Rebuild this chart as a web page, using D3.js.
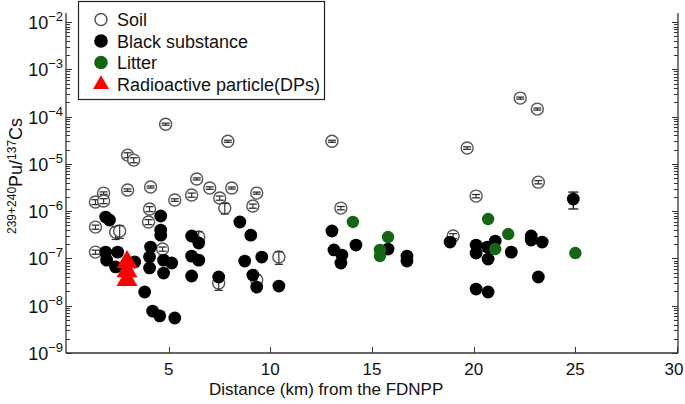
<!DOCTYPE html>
<html><head><meta charset="utf-8">
<script src="https://cdn.jsdelivr.net/npm/d3@7"></script>
<style>body{margin:0;background:#fff}svg{display:block}text{font-family:"Liberation Sans",Arial,sans-serif}</style>
</head><body><svg id="c" width="685" height="404"></svg>
<script>
// ---- data ----
const soilX = [4.85,7.91,2.98,3.28,13.03,19.68,22.29,23.13,23.18,20.12,13.47,18.99,1.80,1.40,1.80,2.98,4.11,4.06,4.01,1.40,2.39,2.59,1.40,4.70,5.30,6.13,6.38,7.02,8.10,7.51,7.76,9.33,9.14,6.48,10.42,7.46,9.33];
const soilY = [6.9e-5,3.0e-5,1.53e-5,1.2e-5,3.0e-5,2.16e-5,2.46e-4,1.44e-4,4.1e-6,2.08e-6,1.16e-6,2.98e-7,2.41e-6,1.56e-6,1.64e-6,2.79e-6,3.24e-6,1.11e-6,5.9e-7,4.6e-7,3.6e-7,3.8e-7,1.36e-7,1.58e-7,1.72e-6,2.19e-6,4.8e-6,3.08e-6,3.08e-6,1.89e-6,1.16e-6,2.41e-6,1.28e-6,2.83e-7,1.07e-7,3.02e-8,3.49e-8];
const soilErr = [0.05,0.05,0.12,0.12,0.05,0.06,0.05,0.05,0.08,0.08,0.08,0.12,0.06,0.12,0.12,0.06,0.05,0.12,0.12,0.1,0.3,0.3,0.1,0.1,0.06,0.1,0.05,0.06,0.05,0.1,0.25,0.05,0.1,0.3,0.3,0.3,0.3];

const blackX = [1.90,2.09,4.61,4.61,4.61,1.90,1.95,2.49,2.39,3.33,4.11,4.06,4.06,4.75,5.15,4.75,3.82,4.21,4.56,5.30,6.13,6.48,6.13,6.48,6.13,7.46,8.50,9.04,8.74,9.58,9.14,9.33,10.42,13.03,13.13,13.52,13.47,14.21,15.79,16.72,16.72,18.84,20.12,20.12,20.71,20.67,21.06,21.85,22.83,22.83,23.37,23.18,20.12,20.71,24.9];
const blackY = [7.5e-7,6.5e-7,7.9e-7,3.98e-7,3.1e-7,1.36e-7,9.2e-8,1.36e-7,6.6e-8,8.4e-8,1.74e-7,1.07e-7,6.3e-8,9.2e-8,8.0e-8,4.9e-8,1.95e-8,7.7e-9,6.1e-9,5.5e-9,2.98e-7,2.12e-7,1.12e-7,9.2e-8,4.25e-8,4.05e-8,5.9e-7,3.1e-7,8.8e-8,1.07e-7,4.45e-8,2.48e-8,2.6e-8,3.8e-7,1.51e-7,1.18e-7,8.0e-8,1.92e-7,1.58e-7,1.12e-7,8.8e-8,2.22e-7,1.92e-7,1.3e-7,9.7e-8,1.74e-7,2.33e-7,1.36e-7,2.98e-7,2.45e-7,2.22e-7,4.05e-8,2.25e-8,1.95e-8,1.8e-6];
const blackLo = {54:1.11e-6};
const blackHi = {54:2.53e-6};

const litterX = [14.06,15.79,15.39,15.39,20.71,21.70,21.06,25.0];
const litterY = [5.9e-7,2.83e-7,1.51e-7,1.12e-7,6.8e-7,3.28e-7,1.58e-7,1.3e-7];

const dpX = [2.95,2.95,2.95];
const dpY = [8.4e-8,5.4e-8,3.5e-8];

const xTicks = [5,10,15,20,25,30];
const yExps = [-9,-8,-7,-6,-5,-4,-3,-2];
const legendLabels = ["Soil","Black substance","Litter","Radioactive particle(DPs)"];

// ---- chart ----
const svg = d3.select("#c");
const x = d3.scaleLinear().domain([0,30]).range([67,677]);
const y = d3.scaleLog().domain([1e-9,1e-2]).range([353,22]);
const pTop = 13, pBottom = 353, pLeft = 66, pRight = 678;
const GREEN = "#146614", GRAY = "#555";

// axes lines
const ax = svg.append("g").attr("stroke","#333").attr("stroke-width",1.3).attr("fill","none");
ax.append("line").attr("x1",pLeft).attr("x2",pLeft).attr("y1",pTop).attr("y2",pBottom);
ax.append("line").attr("x1",pRight).attr("x2",pRight).attr("y1",pTop).attr("y2",pBottom);
ax.append("line").attr("x1",pLeft).attr("x2",pRight).attr("y1",pBottom).attr("y2",pBottom);

// y ticks (major + minor) on both sides, inward
const ticks = [];
yExps.forEach(e => {
  ticks.push({v:Math.pow(10,e), major:true});
  if (e < -2) for (let k=2;k<=9;k++) ticks.push({v:k*Math.pow(10,e), major:false});
});
ticks.forEach(t => {
  const yy = Math.round(y(t.v))+0.5, len = t.major?6:4;
  ax.append("line").attr("x1",pLeft).attr("x2",pLeft+len).attr("y1",yy).attr("y2",yy).attr("stroke-width",1);
  ax.append("line").attr("x1",pRight).attr("x2",pRight-len).attr("y1",yy).attr("y2",yy).attr("stroke-width",1);
});
// x ticks
xTicks.forEach(t => {
  const xx = Math.round(x(t))+0.5;
  ax.append("line").attr("x1",xx).attr("x2",xx).attr("y1",pBottom).attr("y2",pBottom-6).attr("stroke-width",1);
  svg.append("text").attr("x",Math.min(x(t),674)).attr("y",375).attr("text-anchor","middle").attr("font-size",17).attr("fill","#111").text(t);
});
// y tick labels
yExps.forEach(e => {
  const t = svg.append("text").attr("x",63).attr("y",y(Math.pow(10,e))+7).attr("text-anchor","end").attr("fill","#111").attr("font-size",18);
  t.append("tspan").text("10");
  t.append("tspan").attr("dy",-8).attr("font-size",13).text("\u2212"+Math.abs(e));
});
// axis titles
svg.append("text").attr("x",209).attr("y",395).attr("font-size",17).attr("fill","#111").text("Distance (km) from the FDNPP");
const yl = svg.append("text").attr("transform","translate(22,234) rotate(-90)").attr("fill","#111").attr("font-size",18);
yl.append("tspan").attr("font-size",12).attr("dy",-6).text("239+240");
yl.append("tspan").attr("dy",6).text("Pu/");
yl.append("tspan").attr("font-size",12).attr("dy",-6).text("137");
yl.append("tspan").attr("dy",6).text("Cs");

// soil
const soil = soilX.map((d,i)=>({x:d,y:soilY[i],e:soilErr[i]}));
const sg = svg.append("g");
soil.forEach(d => {
  const cx = x(d.x), cy = y(d.y), y1 = y(d.y*(1+d.e)), y2 = y(d.y*(1-d.e));
  sg.append("circle").attr("cx",cx).attr("cy",cy).attr("r",6).attr("fill","#fff").attr("stroke",GRAY).attr("stroke-width",1.4);
  sg.append("line").attr("x1",cx).attr("x2",cx).attr("y1",y1).attr("y2",y2).attr("stroke","#333").attr("stroke-width",1.2);
  [y1,y2].forEach(yy => sg.append("line").attr("x1",cx-4).attr("x2",cx+4).attr("y1",yy).attr("y2",yy).attr("stroke","#333").attr("stroke-width",1.3));
});
// black
const bg = svg.append("g");
blackX.forEach((d,i) => {
  const cx = x(d), cy = y(blackY[i]);
  if (blackLo[i]) {
    const y1 = y(blackHi[i]), y2 = y(blackLo[i]);
    bg.append("line").attr("x1",cx).attr("x2",cx).attr("y1",y1).attr("y2",y2).attr("stroke","#111").attr("stroke-width",1.3);
    [y1,y2].forEach(yy => bg.append("line").attr("x1",cx-5).attr("x2",cx+5).attr("y1",yy).attr("y2",yy).attr("stroke","#111").attr("stroke-width",1.3));
  }
  bg.append("circle").attr("cx",cx).attr("cy",cy).attr("r",6.4).attr("fill","#000");
});
// litter
litterX.forEach((d,i) => svg.append("circle").attr("cx",x(d)).attr("cy",y(litterY[i])).attr("r",6.2).attr("fill",GREEN));
// DPs
const tri = d3.symbol().type(d3.symbolTriangle).size(190);
dpX.forEach((d,i) => svg.append("path").attr("d",tri()).attr("transform",`translate(${x(d)},${y(dpY[i])})`).attr("fill","#f00"));

// legend
const lg = svg.append("g");
lg.append("rect").attr("x",78.5).attr("y",1.5).attr("width",246).attr("height",98).attr("fill","#fff").attr("stroke","#222").attr("stroke-width",1.2);
const rowsY = [19.5,41,62.5,84.5];
legendLabels.forEach((l,i) => {
  const cy = rowsY[i];
  if (i===0) lg.append("circle").attr("cx",101).attr("cy",cy).attr("r",6).attr("fill","#fff").attr("stroke",GRAY).attr("stroke-width",1.5);
  if (i===1) lg.append("circle").attr("cx",101).attr("cy",cy).attr("r",6.8).attr("fill","#000");
  if (i===2) lg.append("circle").attr("cx",101).attr("cy",cy).attr("r",6.8).attr("fill",GREEN);
  if (i===3) lg.append("path").attr("d",d3.symbol().type(d3.symbolTriangle).size(110)()).attr("transform",`translate(101,${cy})`).attr("fill","#f00");
  lg.append("text").attr("x",117).attr("y",cy+6.5).attr("font-size",18).attr("fill","#111").text(l);
});
</script></body></html>
